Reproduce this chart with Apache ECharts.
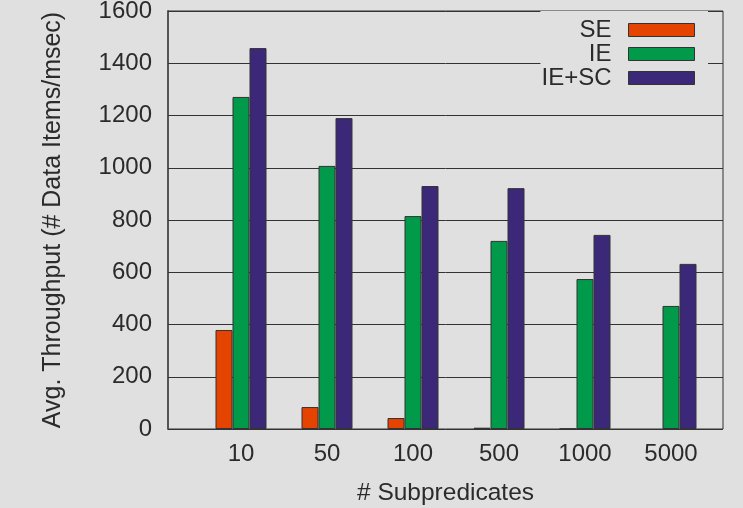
<!DOCTYPE html>
<html>
<head>
<meta charset="utf-8">
<script src="https://cdn.jsdelivr.net/npm/echarts@6/dist/echarts.min.js"></script>
<style>
  html, body { margin: 0; padding: 0; background: #e0e0e0; }
  #chart { width: 743px; height: 508px; }
</style>
</head>
<body>
<div id="chart"></div>
<script>
    const categories = ['10', '50', '100', '500', '1000', '5000'];
    const seValues = [379, 84, 42, 5, 1, null];
    const ieValues = [1271, 1007, 815, 720, 574, 471];
    const iescValues = [1458, 1190, 930, 922, 743, 632];
    const colors = ['#e54300', '#009a4a', '#3c2878'];
    const font = 'Liberation Sans, Arial, sans-serif';
    const textColor = '#2b2b2b';

    const myChart = echarts.init(document.getElementById('chart'));

    // one bar series, all share the inner grid
    function barSeries(name, data) {
        return {
            name: name,
            type: 'bar',
            xAxisIndex: 1,
            yAxisIndex: 1,
            barWidth: 17,
            barGap: 0,
            itemStyle: { borderColor: '#333', borderWidth: 1 },
            data: data
        };
    }

    const option = {
        backgroundColor: '#e0e0e0',
        color: colors,
        textStyle: { fontFamily: font },
        legend: {
            orient: 'vertical',
            align: 'right',
            right: 35,
            top: 11,
            padding: [7, 13, 2, 1],
            itemGap: 0,
            itemWidth: 66,
            itemHeight: 13,
            icon: 'rect',
            backgroundColor: '#e0e0e0',
            textStyle: { fontSize: 24, color: textColor, fontFamily: font, padding: [0, 12, 0, 0] },
            itemStyle: { borderColor: '#333', borderWidth: 1 },
            data: ['SE', 'IE', 'IE+SC']
        },
        grid: [
            { left: 168, right: 20, top: 11, bottom: 79, outerBoundsMode: 'none', show: true, borderColor: '#333', borderWidth: 1, backgroundColor: 'transparent' },
            { left: 198, right: 29, top: 11, bottom: 79, outerBoundsMode: 'none' }
        ],
        xAxis: [
            {
                gridIndex: 0,
                type: 'value',
                min: 0,
                max: 1,
                name: '# Subpredicates',
                nameLocation: 'middle',
                nameGap: 52,
                nameTextStyle: { fontSize: 24.5, color: textColor, fontFamily: font },
                axisLine: { show: false },
                axisTick: { show: false },
                axisLabel: { show: false },
                splitLine: { show: false }
            },
            {
                gridIndex: 1,
                type: 'category',
                data: categories,
                axisLine: { show: false },
                axisTick: { alignWithLabel: true, length: 6, lineStyle: { color: '#777', width: 2 } },
                axisLabel: { fontSize: 24, color: textColor, margin: 13, fontFamily: font }
            }
        ],
        yAxis: [
            {
                gridIndex: 0,
                type: 'value',
                min: 0,
                max: 1600,
                interval: 200,
                name: 'Avg. Throughput (# Data Items/msec)',
                nameLocation: 'middle',
                nameGap: 102,
                nameTextStyle: { fontSize: 25, color: textColor, fontFamily: font },
                axisLine: { show: true, lineStyle: { color: '#555', width: 2 } },
                axisTick: { show: true, inside: true, length: 5, lineStyle: { color: '#333' } },
                axisLabel: { fontSize: 24, color: textColor, margin: 16, fontFamily: font, formatter: function (v) { return String(v); } },
                splitLine: { show: true, lineStyle: { color: '#333', width: 1 } }
            },
            {
                gridIndex: 1,
                type: 'value',
                min: 0,
                max: 1600,
                show: false
            }
        ],
        series: [
            barSeries('SE', seValues),
            barSeries('IE', ieValues),
            barSeries('IE+SC', iescValues)
        ]
    };
    myChart.setOption(option);
</script>
</body>
</html>
